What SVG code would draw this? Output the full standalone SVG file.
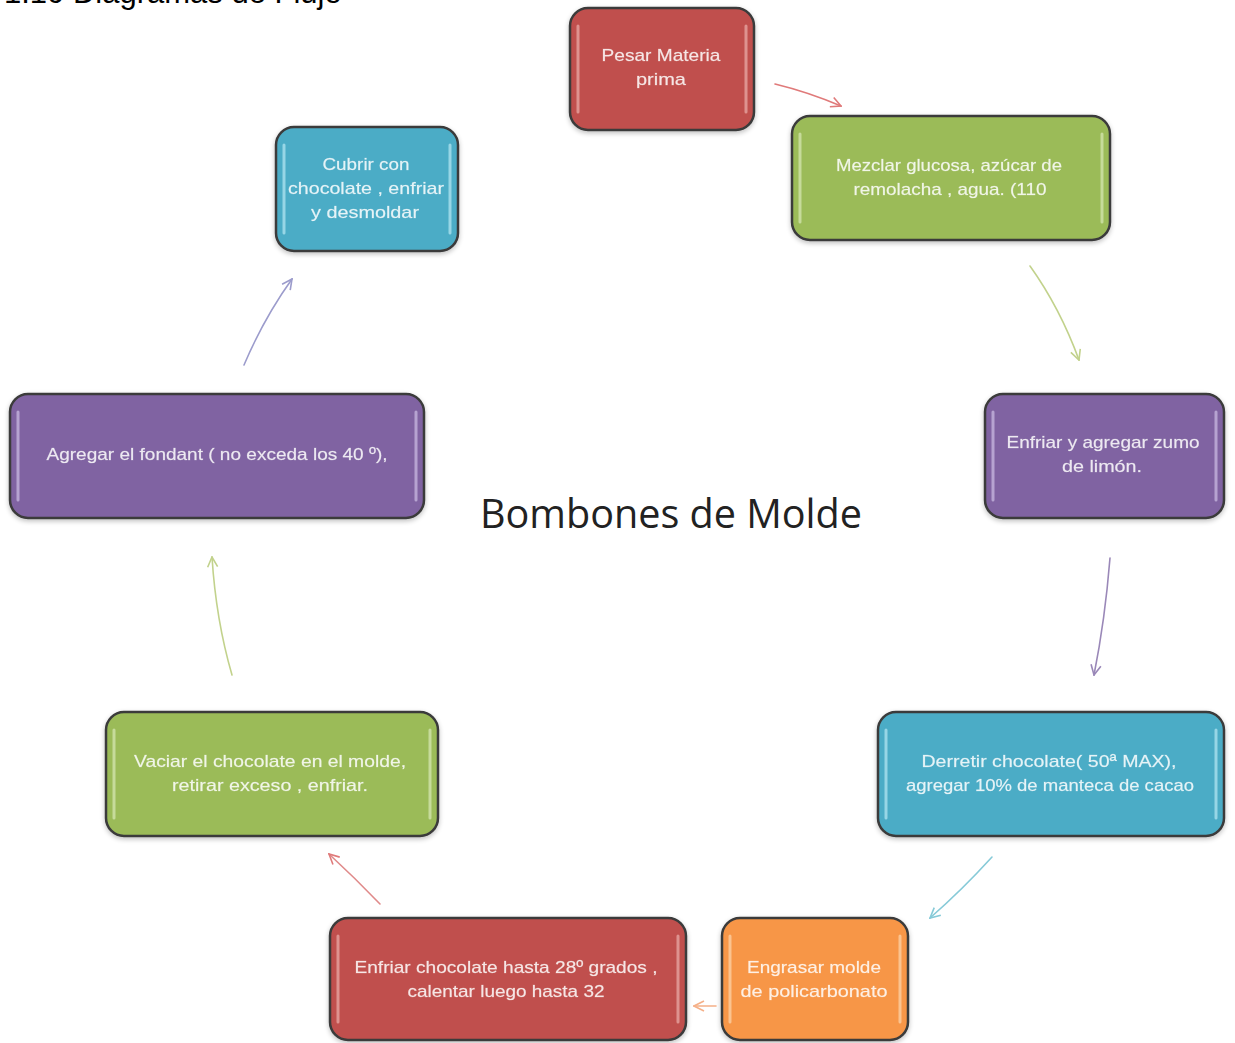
<svg xmlns="http://www.w3.org/2000/svg" width="1235" height="1043" viewBox="0 0 1235 1043">
<style>
.box{stroke:#3b3b3b;stroke-width:2.5}
.hl{fill:none;stroke-width:3;stroke-linecap:round;opacity:0.75}
.t{font-family:"Liberation Sans",Arial,sans-serif;font-size:17px;fill:#ffffff;fill-opacity:0.85;stroke:#ffffff;stroke-opacity:0.35;stroke-width:0.4;text-anchor:middle}
.c{fill:none;stroke-width:1.6;stroke-linecap:round}
.title{font-family:"Liberation Sans",Arial,sans-serif;font-size:31px;fill:#000}
.center{font-family:"Open Sans","Liberation Sans",sans-serif;font-size:40px;fill:#222}
</style>
<defs>
<filter id="sh" x="-10%" y="-10%" width="120%" height="130%">
<feGaussianBlur in="SourceAlpha" stdDeviation="2.5"/>
<feOffset dx="0" dy="2" result="b"/>
<feComponentTransfer><feFuncA type="linear" slope="0.25"/></feComponentTransfer>
<feMerge><feMergeNode/><feMergeNode in="SourceGraphic"/></feMerge>
</filter>
<marker id="mRed" viewBox="0 0 12 12" refX="11" refY="6" markerWidth="12" markerHeight="12" markerUnits="userSpaceOnUse" orient="auto"><path d="M1,1 L11,6 L1,11" fill="none" stroke="#e07a7a" stroke-width="1.6"/></marker>
<marker id="mGreen" viewBox="0 0 12 12" refX="11" refY="6" markerWidth="12" markerHeight="12" markerUnits="userSpaceOnUse" orient="auto"><path d="M1,1 L11,6 L1,11" fill="none" stroke="#c2d28c" stroke-width="1.6"/></marker>
<marker id="mPurple" viewBox="0 0 12 12" refX="11" refY="6" markerWidth="12" markerHeight="12" markerUnits="userSpaceOnUse" orient="auto"><path d="M1,1 L11,6 L1,11" fill="none" stroke="#9a88b8" stroke-width="1.6"/></marker>
<marker id="mTeal" viewBox="0 0 12 12" refX="11" refY="6" markerWidth="12" markerHeight="12" markerUnits="userSpaceOnUse" orient="auto"><path d="M1,1 L11,6 L1,11" fill="none" stroke="#86cad8" stroke-width="1.6"/></marker>
<marker id="mOrange" viewBox="0 0 12 12" refX="11" refY="6" markerWidth="12" markerHeight="12" markerUnits="userSpaceOnUse" orient="auto"><path d="M1,1 L11,6 L1,11" fill="none" stroke="#f5b088" stroke-width="1.6"/></marker>
<marker id="mBlue" viewBox="0 0 12 12" refX="11" refY="6" markerWidth="12" markerHeight="12" markerUnits="userSpaceOnUse" orient="auto"><path d="M1,1 L11,6 L1,11" fill="none" stroke="#9c9ccc" stroke-width="1.6"/></marker>
</defs>
<rect width="1235" height="1043" fill="#ffffff"/>
<text class="title" x="4" y="3">1.10 Diagramas de Flujo</text>
<text class="center" x="480" y="528" textLength="382" lengthAdjust="spacingAndGlyphs">Bombones de Molde</text>

<g id="n1" filter="url(#sh)">
<rect class="box" x="570" y="8" width="184" height="122" rx="18" fill="#c0504d"/>
<path class="hl" d="M578,26 V112 M746,26 V112" stroke="#e8a8a6"/>
<text class="t" x="661" y="61" textLength="119" lengthAdjust="spacingAndGlyphs">Pesar Materia</text>
<text class="t" x="661" y="85" textLength="50" lengthAdjust="spacingAndGlyphs">prima</text>
</g>
<g id="n2" filter="url(#sh)">
<rect class="box" x="792" y="116" width="318" height="124" rx="18" fill="#9bbb59"/>
<path class="hl" d="M800,134 V222 M1102,134 V222" stroke="#d4e6b0"/>
<text class="t" x="949" y="171" textLength="226" lengthAdjust="spacingAndGlyphs">Mezclar glucosa, azúcar de</text>
<text class="t" x="950" y="195" textLength="193" lengthAdjust="spacingAndGlyphs">remolacha , agua. (110</text>
</g>
<g id="n3" filter="url(#sh)">
<rect class="box" x="985" y="394" width="239" height="124" rx="18" fill="#8064a2"/>
<path class="hl" d="M993,412 V500 M1216,412 V500" stroke="#c8b8e0"/>
<text class="t" x="1103" y="448" textLength="193" lengthAdjust="spacingAndGlyphs">Enfriar y agregar zumo</text>
<text class="t" x="1102" y="472" textLength="80" lengthAdjust="spacingAndGlyphs">de limón.</text>
</g>
<g id="n4" filter="url(#sh)">
<rect class="box" x="878" y="712" width="346" height="124" rx="18" fill="#4bacc6"/>
<path class="hl" d="M886,730 V818 M1216,730 V818" stroke="#b0e4f0"/>
<text class="t" x="1049" y="767" textLength="255" lengthAdjust="spacingAndGlyphs">Derretir chocolate( 50ª MAX),</text>
<text class="t" x="1050" y="791" textLength="288" lengthAdjust="spacingAndGlyphs">agregar 10% de manteca de cacao</text>
</g>
<g id="n5" filter="url(#sh)">
<rect class="box" x="722" y="918" width="186" height="122" rx="18" fill="#f79646"/>
<path class="hl" d="M730,936 V1022 M900,936 V1022" stroke="#fcd2a8"/>
<text class="t" x="814" y="973" textLength="134" lengthAdjust="spacingAndGlyphs">Engrasar molde</text>
<text class="t" x="814" y="997" textLength="147" lengthAdjust="spacingAndGlyphs">de policarbonato</text>
</g>
<g id="n6" filter="url(#sh)">
<rect class="box" x="330" y="918" width="356" height="122" rx="18" fill="#c0504d"/>
<path class="hl" d="M338,936 V1022 M678,936 V1022" stroke="#e8a8a6"/>
<text class="t" x="506" y="973" textLength="303" lengthAdjust="spacingAndGlyphs">Enfriar chocolate hasta 28º  grados ,</text>
<text class="t" x="506" y="997" textLength="197" lengthAdjust="spacingAndGlyphs">calentar luego hasta 32</text>
</g>
<g id="n7" filter="url(#sh)">
<rect class="box" x="106" y="712" width="332" height="124" rx="18" fill="#9bbb59"/>
<path class="hl" d="M114,730 V818 M430,730 V818" stroke="#d4e6b0"/>
<text class="t" x="270" y="767" textLength="272" lengthAdjust="spacingAndGlyphs">Vaciar el chocolate en el molde,</text>
<text class="t" x="270" y="791" textLength="196" lengthAdjust="spacingAndGlyphs">retirar exceso , enfriar.</text>
</g>
<g id="n8" filter="url(#sh)">
<rect class="box" x="10" y="394" width="414" height="124" rx="18" fill="#8064a2"/>
<path class="hl" d="M18,412 V500 M416,412 V500" stroke="#c8b8e0"/>
<text class="t" x="217" y="460" textLength="341" lengthAdjust="spacingAndGlyphs">Agregar el fondant ( no exceda los 40 º),</text>
</g>
<g id="n9" filter="url(#sh)">
<rect class="box" x="276" y="127" width="182" height="124" rx="18" fill="#4bacc6"/>
<path class="hl" d="M284,145 V233 M450,145 V233" stroke="#b0e4f0"/>
<text class="t" x="366" y="170" textLength="87" lengthAdjust="spacingAndGlyphs">Cubrir con</text>
<text class="t" x="366" y="194" textLength="156" lengthAdjust="spacingAndGlyphs">chocolate , enfriar</text>
<text class="t" x="365" y="218" textLength="108" lengthAdjust="spacingAndGlyphs">y desmoldar</text>
</g>

<g id="connectors">
<path class="c" d="M775,84 Q808,92 841,106" stroke="#e07a7a" marker-end="url(#mRed)"/>
<path class="c" d="M1030,266 Q1060,308 1079,360" stroke="#c2d28c" marker-end="url(#mGreen)"/>
<path class="c" d="M1110,558 Q1105,620 1094,675" stroke="#9a88b8" marker-end="url(#mPurple)"/>
<path class="c" d="M992,857 Q962,890 930,918" stroke="#86cad8" marker-end="url(#mTeal)"/>
<path class="c" d="M716,1006 L694,1006" stroke="#f5b088" marker-end="url(#mOrange)"/>
<path class="c" d="M380,904 Q355,878 329,854" stroke="#e08a8a" marker-end="url(#mRed)"/>
<path class="c" d="M232,675 Q216,620 212,557" stroke="#c2d28c" marker-end="url(#mGreen)"/>
<path class="c" d="M244,365 Q264,318 292,279" stroke="#9c9ccc" marker-end="url(#mBlue)"/>
</g>
</svg>
